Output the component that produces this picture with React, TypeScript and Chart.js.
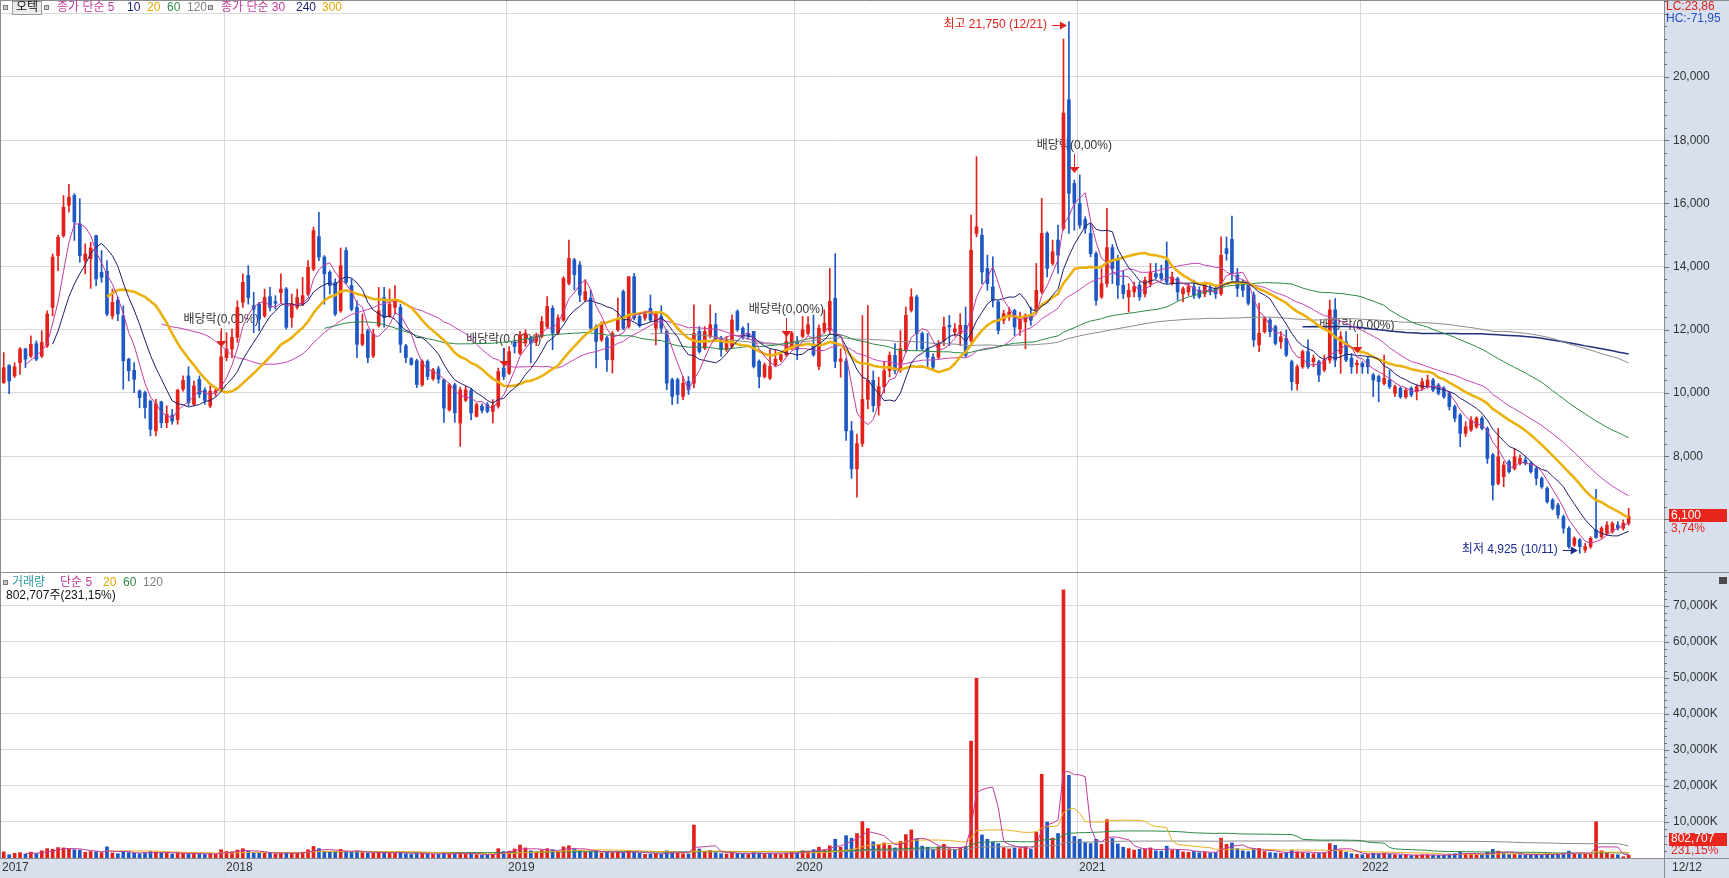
import React, { useEffect, useRef } from 'react';
import { Chart, registerables } from 'chart.js';

Chart.register(...registerables);

const W = 1729;
const H = 878;

// ---------- DATA (weekly, Mar 2017 .. 12/12 2022) ----------
const openP = [
  10330,10870,10540,10960,11390,11170,11560,11170,11490,12710,
  14350,14980,15940,16250,15350,14190,14250,14980,13820,13850,
  12440,12940,12440,11070,10720,10060,10010,9740,8800,9720,
  9060,9300,9160,10120,10540,9640,10430,10090,9590,10010,
  10060,11120,11390,11760,12870,13720,12760,12810,12440,13050,
  12890,13180,13290,12390,12710,12810,13130,13920,14950,14300,
  13820,13500,12600,14510,13400,12710,11540,11970,11170,12130,
  13020,12440,12710,12710,11490,11090,11020,10260,11000,10450,
  10760,10420,9470,10260,9050,9770,10080,9260,9580,9630,
  9420,9580,10790,10630,11600,11260,11580,11700,11630,11790,
  12100,12680,11890,12310,13470,14210,14050,12950,13000,12100,
  11680,11740,11050,12000,13210,12100,13680,12420,12370,12680,
  12050,12420,11950,10420,10420,9890,10370,10310,11950,11420,
  11790,12160,11740,11370,11470,12580,12050,11890,11950,11000,
  10520,10470,10890,11050,11210,11420,11630,11790,11890,11520,
  10840,11950,11980,13000,11000,11000,8800,7600,8400,9800,
  10400,9600,10200,10710,11190,10710,11350,12620,13040,11880,
  11400,11130,11130,11660,12140,11930,11880,12140,11660,15050,
  14990,13940,13360,12880,12300,12460,12610,12030,12250,12460,
  12620,13200,15050,14100,14840,15210,19280,16630,16000,15490,
  15050,14410,13040,13460,14600,14260,13410,13040,13200,13410,
  13140,13460,13780,13780,14200,13460,13620,13140,13200,13360,
  13250,13140,13300,13300,13140,14570,14860,13730,13520,13420,
  13100,11520,11940,12310,12100,11620,11730,10990,10300,10830,
  11310,10990,10990,10730,11040,12630,11250,11620,11100,10890,
  10940,11060,10570,10520,10300,10410,9990,10150,9880,10150,
  10040,10150,10200,10410,10250,10150,9990,9570,9300,8720,
  8830,8930,9200,8880,8040,7140,7350,7830,7610,7770,
  7880,7770,7610,7300,6980,6610,6450,6080,5720,5190,
  5350,5030,5140,5660,5450,5560,5610,5820,5720,5880,
];

const highP = [
  11280,10900,10960,11440,11420,11810,11650,11970,12600,14400,
  15000,16250,16600,16310,16150,14720,14770,15000,14510,14190,
  13290,13030,12760,11100,10960,10100,10060,9780,9800,9740,
  9590,9480,10120,10540,10830,10380,10540,10170,10220,10120,
  11970,11910,12020,12920,13770,14030,13180,12870,13290,13340,
  13080,13770,13340,13130,13290,13660,14190,15250,15720,14350,
  13870,13610,14590,14600,13610,12920,12500,12020,12020,13340,
  13340,13290,13400,12810,11540,11120,11070,11050,11050,10780,
  10840,10440,10310,10310,10190,10210,10150,9680,9660,9700,
  9790,10790,11420,11470,11680,11950,12000,11790,11900,12420,
  13050,12760,12470,13680,14840,14260,14160,13580,13260,12160,
  12260,11790,11950,13000,13260,13680,13790,12500,12600,13100,
  12580,12760,12000,10470,10470,10520,10520,12790,12100,12100,
  12790,12520,11790,11790,12470,12630,12100,12210,11950,11050,
  10950,11370,11370,11250,11840,11950,11790,12420,12420,12470,
  12160,12630,13940,14410,11400,11100,9100,8700,12450,12770,
  10700,10500,11000,11300,11560,11980,12720,13300,13100,11930,
  11880,11240,11660,12400,12460,12200,12510,12720,15630,17480,
  15200,14360,14310,12930,12620,12700,12650,12560,12510,12720,
  14100,16160,15100,14840,15310,21200,21750,16740,16900,15580,
  15370,14470,13940,15840,14700,14360,13880,13460,13510,13510,
  13670,14100,14100,14040,14780,13830,13670,13360,13460,13570,
  13360,13510,13400,13360,14940,14940,15600,13940,13570,13470,
  13200,12840,12410,12360,12150,11940,11990,11040,10890,11360,
  11680,11200,11040,11200,12940,12990,11940,11940,11250,11040,
  10990,11150,10620,10570,11200,10730,10250,10200,10150,10200,
  10250,10460,10570,10460,10300,10200,10040,9620,9350,9090,
  9250,9250,9250,8930,8090,8880,7830,7880,8250,8040,
  7980,7830,7670,7350,7030,6660,6510,6140,5770,5450,
  5400,5240,5450,6950,5770,5930,5930,5930,5980,6350,
];

const lowP = [
  10300,9980,10490,10590,10800,11120,11020,11120,11440,12440,
  13870,14930,15720,14830,14140,13770,13310,13400,13500,12440,
  12340,12290,10120,10380,10010,9530,9200,8640,8640,8900,
  8900,9010,9010,10060,9590,9590,9850,9640,9530,9900,
  10060,11020,11120,11600,12710,12810,11910,11970,12390,12600,
  12650,12870,12020,12080,12650,12760,13080,13870,14190,12810,
  13130,12440,12550,13450,12600,11120,11490,10960,11120,12080,
  12080,12390,12500,11280,10960,10880,10170,10210,10420,10400,
  10310,9070,9420,9070,8310,9730,9150,9240,9370,9370,
  9050,9520,10420,10580,11260,11210,11480,10950,11500,11740,
  12050,11370,11840,12260,13420,13260,12890,12890,12000,10790,
  11630,10680,10630,11950,12000,12050,12310,12080,12300,12260,
  11520,11890,10100,9630,9660,9790,9950,10160,11260,11370,
  11740,11630,11160,11310,11420,11950,11700,11700,10790,10160,
  10470,10420,10840,10990,11160,11370,11050,11740,11840,11160,
  10740,11890,11870,10800,10500,8500,7300,6700,8300,9500,
  9400,9300,10000,10500,10600,10650,11290,12560,11350,11350,
  10820,10760,11080,11500,11500,11800,11500,11130,11610,14940,
  13460,13250,12720,11870,12190,12300,11820,11820,11400,12140,
  12560,13140,13670,14040,13780,15150,15050,15150,15210,15050,
  14310,12780,12990,13360,13460,12990,12990,12560,13040,12930,
  13040,13360,13620,13570,13460,13410,12930,12880,13090,12990,
  12990,13040,13100,12990,13090,14200,13570,13050,13050,12780,
  11470,11310,11890,11780,11520,11410,11150,10090,10090,10780,
  10780,10830,10360,10670,10940,10830,10620,10990,10620,10620,
  10620,10620,9880,9720,10250,10140,9880,9830,9830,9880,
  9780,10090,10150,10040,9940,9830,9460,9090,8300,8620,
  8780,8880,8830,7770,6610,7090,7030,7460,7560,7720,
  7720,7460,7090,6980,6510,6300,6030,5560,5080,5140,
  4925,4950,5080,5400,5400,5500,5560,5660,5660,5820,
];

const closeP = [
  10800,10380,10830,11390,11070,11540,11070,11600,12500,14300,
  14930,15880,16200,15410,14350,14400,14590,13610,13660,12500,
  12870,12500,11020,10700,10430,9850,9530,8850,9660,9060,
  9320,9110,10090,10400,9700,10220,9960,9770,10060,10070,
  11140,11390,11760,12710,13500,13020,12650,12340,13020,12710,
  12840,13290,12080,12810,13020,13080,13980,15140,14300,13770,
  13400,12500,14030,13500,12650,11540,11860,11120,11860,12600,
  12390,12810,12970,11540,11120,10900,10270,11000,10520,10730,
  10440,9520,10260,9370,10100,10100,9370,9630,9450,9420,
  9600,10680,10520,11310,11470,11840,11890,11580,11810,12260,
  12740,11890,12370,13630,14260,13740,13100,13210,12050,11630,
  12210,11050,11890,12310,12050,13680,12370,12130,12520,12310,
  12520,12050,10310,9890,9950,10310,10100,11890,11310,11950,
  12160,11680,11370,11680,12310,12000,11790,11790,10840,10520,
  10890,10840,11070,11210,11630,11890,11370,12000,12160,11210,
  12050,12210,12900,11000,11080,8800,7600,8400,9800,10400,
  9600,10200,10700,11190,10710,11400,12460,13040,11880,11400,
  11130,10820,11560,12090,12090,12030,12140,11190,14520,15260,
  13830,13460,12930,11980,12510,12560,12090,12350,12460,12300,
  13250,15050,13940,14470,14360,18860,16320,16000,15310,15210,
  14410,12930,13460,14600,13940,13410,13140,13250,13360,13040,
  13570,13830,13670,13620,13510,13670,13200,13300,13360,13090,
  13040,13460,13200,13140,14360,14410,13780,13310,13250,12840,
  11680,11890,12360,11940,11570,11780,11200,10360,10830,11310,
  10830,11100,10570,11040,12630,11040,11780,11040,10830,10940,
  10830,10830,10410,10360,10460,10200,10200,9880,10090,9940,
  10200,10360,10410,10090,9990,9880,9570,9200,8720,8930,
  9140,9200,8880,7930,7090,7980,7720,7510,7980,7930,
  7770,7510,7300,7030,6560,6350,6140,5720,5140,5400,
  5140,5140,5400,5430,5720,5820,5870,5720,5880,6100,
];

// volume in thousands of shares
const volumes = [
  1700,900,1300,1500,1100,1600,1200,2000,2600,2400,
  2900,2800,2500,2300,2200,1600,1800,1700,1500,3100,
  1400,1200,1900,1500,1300,1200,1400,1800,1700,1400,
  1300,1100,1500,1300,1200,1300,1100,1000,1200,1000,
  2300,1800,1700,2200,2600,1900,1500,1300,1500,1300,
  1200,1400,1500,1300,1300,1600,2300,3200,2600,1900,
  1600,1800,2400,1900,1600,2000,1500,1400,1300,1700,
  1500,1400,1300,1600,1200,1000,1400,1300,1100,1000,
  1000,1400,1200,1300,1500,1000,1100,900,800,800,
  1000,2600,1800,1900,2500,3600,2800,2000,1700,2100,
  2600,2300,1800,3100,3400,2400,2000,1700,1800,2000,
  1400,1600,1500,1700,1500,2100,1600,1300,1000,1100,
  1200,1100,2000,1700,1300,1200,1100,9150,2500,1700,
  2100,1500,1200,1100,1500,1300,1100,1000,1500,1400,
  1100,1300,1100,1000,1400,1700,1500,2000,1900,2300,
  3000,2200,3400,5200,3000,6200,5500,6800,10100,8200,
  4500,3800,4200,3500,2800,4600,6500,7800,5200,3300,
  3000,2400,3100,3800,2600,2300,2900,3200,32450,49900,
  6400,5200,4400,4000,2900,2500,2800,2600,3200,2400,
  7200,23250,10000,5500,6800,74470,22940,6000,5200,4300,
  4000,5200,3800,10670,5400,3900,3000,2600,2200,2400,
  2500,2800,2000,1900,3300,2200,2400,1700,1600,1800,
  1500,1700,1400,1500,5500,3800,4200,2600,2000,1800,
  2600,2700,1800,1500,1400,1300,1600,2100,1700,1500,
  1300,1200,1400,1500,4000,3500,2200,1600,1200,1000,
  900,1000,1300,1200,1400,1000,900,800,800,700,
  800,900,900,800,700,800,1100,1200,1700,1300,
  1100,900,800,1600,2400,1900,1300,1000,1100,900,
  800,900,1000,900,1200,1000,1100,1400,1900,1300,
  1300,1100,1000,10050,2000,1300,1000,900,347.266,802.707,
];

const yearLabels = ['2017', '2018', '2019', '2020', '2021', '2022'];
const yearStartIdx = [0, 41, 93, 146, 198, 250];
const lastDateLabel = '12/12';
const hiDateLabel = '12/21';
const loDateLabel = '10/11';

const divIdx = [40, 92, 144, 197, 249];
const divAnchorPrice = [11456, 10823, 11782, 16972, 11275];
const divText = '배당락(0,00%)';

const priceMAPeriods = [5, 10, 20, 60, 120, 30, 240, 300];
const volMAPeriods = [5, 20, 60, 120];
const priceGridValues = [6000, 8000, 10000, 12000, 14000, 16000, 18000, 20000, 22000];
const priceLabelValues = [8000, 10000, 12000, 14000, 16000, 18000, 20000];
const volGridValues = [10000, 20000, 30000, 40000, 50000, 60000, 70000];

const PRICE_MIN = 4335;
const PRICE_MAX = 22405;
const VOL_MIN = 0;
const VOL_MAX = 79400;

// ---------- STYLE ----------
const RED = '#e3211b';
const BLUE = '#1d58c4';
const NAVY_TXT = '#1a2a92';
const AXIS_BG = '#d7e0ec';
const GRID = '#d9d9d9';
const BORDER = '#8c8c8c';
const TXT = '#333333';
const C_MA5 = '#c23a9c';
const C_MA10 = '#1b1f6e';
const C_MA20 = '#ebb10d';
const C_MA60 = '#2d8a45';
const C_MA120 = '#8b8b8b';
const C_MA30 = '#c546b3';
const C_MA240 = '#22307f';
const FONT = '12px "Liberation Sans Narrow", "Liberation Sans", "Noto Sans CJK KR", sans-serif';

const N = closeP.length;
const TOTAL = N + 6;
const labels = Array.from({ length: TOTAL }, (_, i) => String(i));

function sma(src: number[], n: number): (number | null)[] {
  const out: (number | null)[] = [];
  let sum = 0;
  for (let i = 0; i < src.length; i++) {
    sum += src[i];
    if (i >= n) sum -= src[i - n];
    out.push(i >= n - 1 ? sum / n : null);
  }
  return out;
}
function pad<T>(a: T[]): (T | null)[] {
  return [...a, ...Array(TOTAL - a.length).fill(null)];
}
const fmt = (v: number) => Math.round(v).toLocaleString('en-US');

function txt(ctx: CanvasRenderingContext2D, s: string, x: number, y: number, color: string, align: CanvasTextAlign = 'left') {
  ctx.font = FONT;
  ctx.fillStyle = color;
  ctx.textAlign = align;
  ctx.textBaseline = 'middle';
  ctx.fillText(s, x, y);
}
function hline(ctx: CanvasRenderingContext2D, x1: number, x2: number, y: number, color: string) {
  ctx.strokeStyle = color;
  ctx.lineWidth = 1;
  ctx.beginPath();
  ctx.moveTo(x1, Math.round(y) + 0.5);
  ctx.lineTo(x2, Math.round(y) + 0.5);
  ctx.stroke();
}
function vline(ctx: CanvasRenderingContext2D, x: number, y1: number, y2: number, color: string) {
  ctx.strokeStyle = color;
  ctx.lineWidth = 1;
  ctx.beginPath();
  ctx.moveTo(Math.round(x) + 0.5, y1);
  ctx.lineTo(Math.round(x) + 0.5, y2);
  ctx.stroke();
}
function square(ctx: CanvasRenderingContext2D, x: number, y: number) {
  ctx.fillStyle = '#c9c9c9';
  ctx.fillRect(x, y, 5, 5);
  ctx.strokeStyle = '#7a7a7a';
  ctx.lineWidth = 1;
  ctx.strokeRect(x + 0.5, y + 0.5, 4, 4);
}

const decoPlugin = {
  id: 'deco',
  beforeDraw(chart: any) {
    const { ctx, chartArea: ca } = chart;
    ctx.save();
    ctx.fillStyle = '#ffffff';
    ctx.fillRect(0, 0, W, H);
    ctx.fillStyle = AXIS_BG;
    ctx.fillRect(ca.right, 0, W - ca.right, H);
    ctx.fillRect(0, ca.bottom, W, H - ca.bottom);
    ctx.restore();
  },
  beforeDatasetsDraw(chart: any) {
    const { ctx } = chart;
    const xs = chart.scales.x;
    const ys = chart.scales.y;
    const half = (xs.getPixelForValue(1) - xs.getPixelForValue(0)) / 2;
    ctx.save();
    yearStartIdx.forEach((idx, k) => {
      if (k === 0) return;
      vline(ctx, xs.getPixelForValue(idx) - half, 0, H, GRID);
    });
    divIdx.forEach((idx, k) => {
      const x = xs.getPixelForValue(idx);
      const tip = ys.getPixelForValue(divAnchorPrice[k]);
      txt(ctx, divText, x, tip - 27, TXT, 'center');
    });
    ctx.restore();
  },
  afterDatasetsDraw(chart: any) {
    const { ctx } = chart;
    const xs = chart.scales.x;
    const ys = chart.scales.y;
    ctx.save();
    // dividend arrows
    divIdx.forEach((idx, k) => {
      const x = Math.round(xs.getPixelForValue(idx));
      const tip = Math.round(ys.getPixelForValue(divAnchorPrice[k]));
      vline(ctx, x, tip - 19, tip - 5, RED);
      ctx.fillStyle = RED;
      ctx.beginPath();
      ctx.moveTo(x - 4.5, tip - 6);
      ctx.lineTo(x + 5.5, tip - 6);
      ctx.lineTo(x + 0.5, tip);
      ctx.closePath();
      ctx.fill();
    });
    // highest
    let iHi = 0, iLo = 0;
    for (let i = 1; i < N; i++) {
      if (highP[i] > highP[iHi]) iHi = i;
      if (lowP[i] < lowP[iLo]) iLo = i;
    }
    {
      const x = xs.getPixelForValue(iHi);
      const y = Math.round(ys.getPixelForValue(highP[iHi]) + 3);
      txt(ctx, `최고 ${fmt(highP[iHi])} (${hiDateLabel})`, x - 22, y, RED, 'right');
      hline(ctx, x - 17, x - 6, y, RED);
      ctx.fillStyle = RED;
      ctx.beginPath();
      ctx.moveTo(x - 9, y - 3.5);
      ctx.lineTo(x - 9, y + 4.5);
      ctx.lineTo(x - 2, y + 0.5);
      ctx.closePath();
      ctx.fill();
    }
    {
      const x = xs.getPixelForValue(iLo);
      const y = Math.round(ys.getPixelForValue(lowP[iLo]) - 3);
      txt(ctx, `최저 ${fmt(lowP[iLo])} (${loDateLabel})`, x - 22, y, NAVY_TXT, 'right');
      hline(ctx, x - 17, x - 6, y, NAVY_TXT);
      ctx.fillStyle = NAVY_TXT;
      ctx.beginPath();
      ctx.moveTo(x - 9, y - 3.5);
      ctx.lineTo(x - 9, y + 4.5);
      ctx.lineTo(x - 2, y + 0.5);
      ctx.closePath();
      ctx.fill();
    }
    ctx.restore();
  },
  afterDraw(chart: any) {
    const { ctx, chartArea: ca } = chart;
    const ys = chart.scales.y;
    const vs = chart.scales.yv;
    const xs = chart.scales.x;
    const R = ca.right;
    ctx.save();

    // borders
    hline(ctx, 0, W, 0, BORDER);
    vline(ctx, 0, 0, ca.bottom, BORDER);
    hline(ctx, 0, W, ys.bottom, BORDER);
    hline(ctx, 0, W, ca.bottom, BORDER);
    vline(ctx, R, 0, H, BORDER);

    // price axis ticks + labels
    for (let v = 4400; v <= 22400; v += 400) {
      if (v < PRICE_MIN || v > PRICE_MAX) continue;
      const y = ys.getPixelForValue(v);
      const major = v % 2000 === 0;
      hline(ctx, R, R + (major ? 5 : 3), y, '#6e6e6e');
    }
    priceLabelValues.forEach((v) => txt(ctx, fmt(v), R + 9, ys.getPixelForValue(v), TXT));

    // volume axis ticks + labels
    for (let v = 2000; v <= 78000; v += 2000) {
      const y = vs.getPixelForValue(v);
      const major = v % 10000 === 0;
      hline(ctx, R, R + (major ? 5 : 3), y, '#6e6e6e');
    }
    volGridValues.forEach((v) => txt(ctx, `${fmt(v)}K`, R + 9, vs.getPixelForValue(v), TXT));

    // header info
    txt(ctx, 'LC:23,86', R + 2, 7, '#e0201c');
    txt(ctx, 'HC:-71,95', R + 2, 19, '#2450c0');

    // last price box
    const lastC = closeP[N - 1];
    const prevC = closeP[N - 2];
    const pct = (((lastC - prevC) / prevC) * 100).toFixed(2).replace('.', ',');
    const yl = Math.round(ys.getPixelForValue(lastC));
    ctx.fillStyle = '#e8261e';
    ctx.fillRect(R + 5, yl - 7, 58, 13);
    txt(ctx, fmt(lastC), R + 7, yl, '#ffffff');
    txt(ctx, `${pct}%`, R + 7, yl + 13, RED);

    // last volume box
    const lastV = volumes[N - 1] * 1000;
    const vPct = ((volumes[N - 1] / volumes[N - 2]) * 100).toFixed(2).replace('.', ',');
    const yv = Math.round(ca.bottom - 19);
    ctx.fillStyle = '#e8261e';
    ctx.fillRect(R + 5, yv - 6, 58, 13);
    txt(ctx, fmt(lastV), R + 7, yv, '#ffffff');
    txt(ctx, `${vPct}%`, R + 7, yv + 12, RED);

    // small icon
    ctx.fillStyle = '#4a4a4a';
    ctx.fillRect(R + 55, vs.top + 5, 8, 7);

    // x labels
    const half = (xs.getPixelForValue(1) - xs.getPixelForValue(0)) / 2;
    yearStartIdx.forEach((idx, k) => {
      const gx = k === 0 ? 0 : Math.round(xs.getPixelForValue(idx) - half);
      txt(ctx, yearLabels[k], gx + 2, ca.bottom + 10, TXT);
    });
    txt(ctx, lastDateLabel, R + 8, ca.bottom + 10, TXT);

    // price legend
    const ly = 8;
    square(ctx, 3, 5);
    ctx.fillStyle = '#ececec';
    ctx.fillRect(12, 1, 30, 14);
    ctx.strokeStyle = '#9a9a9a';
    ctx.strokeRect(12.5, 1.5, 29, 13);
    txt(ctx, '오텍', 27, ly, '#111', 'center');
    square(ctx, 44, 5);
    txt(ctx, '종가 단순 5', 57, ly, C_MA5);
    txt(ctx, '10', 127, ly, C_MA10);
    txt(ctx, '20', 147, ly, '#e3a800');
    txt(ctx, '60', 167, ly, C_MA60);
    txt(ctx, '120', 187, ly, '#808080');
    square(ctx, 208, 5);
    txt(ctx, '종가 단순 30', 221, ly, C_MA5);
    txt(ctx, '240', 296, ly, C_MA10);
    txt(ctx, '300', 322, ly, '#e3a800');

    // volume legend
    const vy = vs.top + 11;
    square(ctx, 3, vy - 3);
    txt(ctx, '거래량', 12, vy, '#2b9aa0');
    txt(ctx, '단순 5', 60, vy, C_MA5);
    txt(ctx, '20', 103, vy, '#e3a800');
    txt(ctx, '60', 123, vy, C_MA60);
    txt(ctx, '120', 143, vy, '#808080');
    txt(ctx, `${fmt(lastV)}주(${vPct}%)`, 6, vy + 13, '#111');

    ctx.restore();
  },
};

export default function App() {
  const ref = useRef<HTMLCanvasElement>(null);

  useEffect(() => {
    document.body.style.margin = '0';
    const candleColors = closeP.map((c, i) => (c >= openP[i] ? RED : BLUE));
    const volColors = volumes.map((_, i) => (i === 0 || closeP[i] >= closeP[i - 1] ? RED : BLUE));

    const priceLine = (n: number, color: string, width: number) => ({
      type: 'line' as const,
      data: pad(sma(closeP, n)),
      borderColor: color,
      borderWidth: width,
      pointRadius: 0,
      fill: false,
      tension: 0,
      yAxisID: 'y',
      order: 1,
    });
    const volLine = (n: number, color: string) => ({
      type: 'line' as const,
      data: pad(sma(volumes, n)),
      borderColor: color,
      borderWidth: 1,
      pointRadius: 0,
      fill: false,
      tension: 0,
      yAxisID: 'yv',
      order: 1,
    });

    const maColors: Record<number, [string, number]> = {
      5: [C_MA5, 1],
      10: [C_MA10, 1],
      20: [C_MA20, 2.6],
      60: [C_MA60, 1],
      120: [C_MA120, 1],
      30: [C_MA30, 1],
      240: [C_MA240, 1.5],
      300: ['#e3a800', 1],
    };
    const volMaColors: Record<number, string> = { 5: C_MA5, 20: '#e9b020', 60: C_MA60, 120: C_MA120 };

    const chart = new Chart(ref.current as HTMLCanvasElement, {
      type: 'bar',
      data: {
        labels,
        datasets: [
          {
            type: 'bar',
            data: pad(lowP.map((l, i) => [l, highP[i]])) as any,
            backgroundColor: pad(candleColors) as any,
            barThickness: 1,
            grouped: false,
            yAxisID: 'y',
            order: 10,
          },
          {
            type: 'bar',
            data: pad(openP.map((o, i) => [o, closeP[i]])) as any,
            backgroundColor: pad(candleColors) as any,
            barThickness: 3,
            minBarLength: 1,
            grouped: false,
            yAxisID: 'y',
            order: 9,
          },
          ...priceMAPeriods.map((n) => priceLine(n, maColors[n][0], maColors[n][1])),
          {
            type: 'bar',
            data: pad(volumes) as any,
            backgroundColor: pad(volColors) as any,
            barThickness: 3,
            grouped: false,
            yAxisID: 'yv',
            order: 10,
          },
          ...volMAPeriods.map((n) => volLine(n, volMaColors[n])),
        ] as any,
      },
      options: {
        animation: false,
        responsive: false,
        events: [],
        layout: { padding: { left: 1, top: 1, right: 0, bottom: 20 } },
        plugins: { legend: { display: false }, tooltip: { enabled: false } },
        scales: {
          x: { type: 'category', offset: true, display: false, grid: { display: false } },
          y: {
            type: 'linear',
            position: 'right',
            stack: 'panels',
            stackWeight: 571,
            min: PRICE_MIN,
            max: PRICE_MAX,
            grid: { color: GRID, drawTicks: false },
            border: { display: false },
            ticks: { display: false },
            afterBuildTicks: (s: any) => {
              s.ticks = priceGridValues.map((v) => ({ value: v }));
            },
            afterFit: (s: any) => {
              s.width = 65;
            },
          },
          yv: {
            type: 'linear',
            position: 'right',
            stack: 'panels',
            stackWeight: 286,
            min: VOL_MIN,
            max: VOL_MAX,
            grid: { color: GRID, drawTicks: false },
            border: { display: false },
            ticks: { display: false },
            afterBuildTicks: (s: any) => {
              s.ticks = volGridValues.map((v) => ({ value: v }));
            },
            afterFit: (s: any) => {
              s.width = 65;
            },
          },
        } as any,
      },
      plugins: [decoPlugin as any],
    });
    return () => chart.destroy();
  }, []);

  return (
    <div style={{ position: 'fixed', left: 0, top: 0, width: W, height: H, background: '#fff' }}>
      <canvas ref={ref} width={W} height={H} style={{ display: 'block', width: W, height: H }} />
    </div>
  );
}
